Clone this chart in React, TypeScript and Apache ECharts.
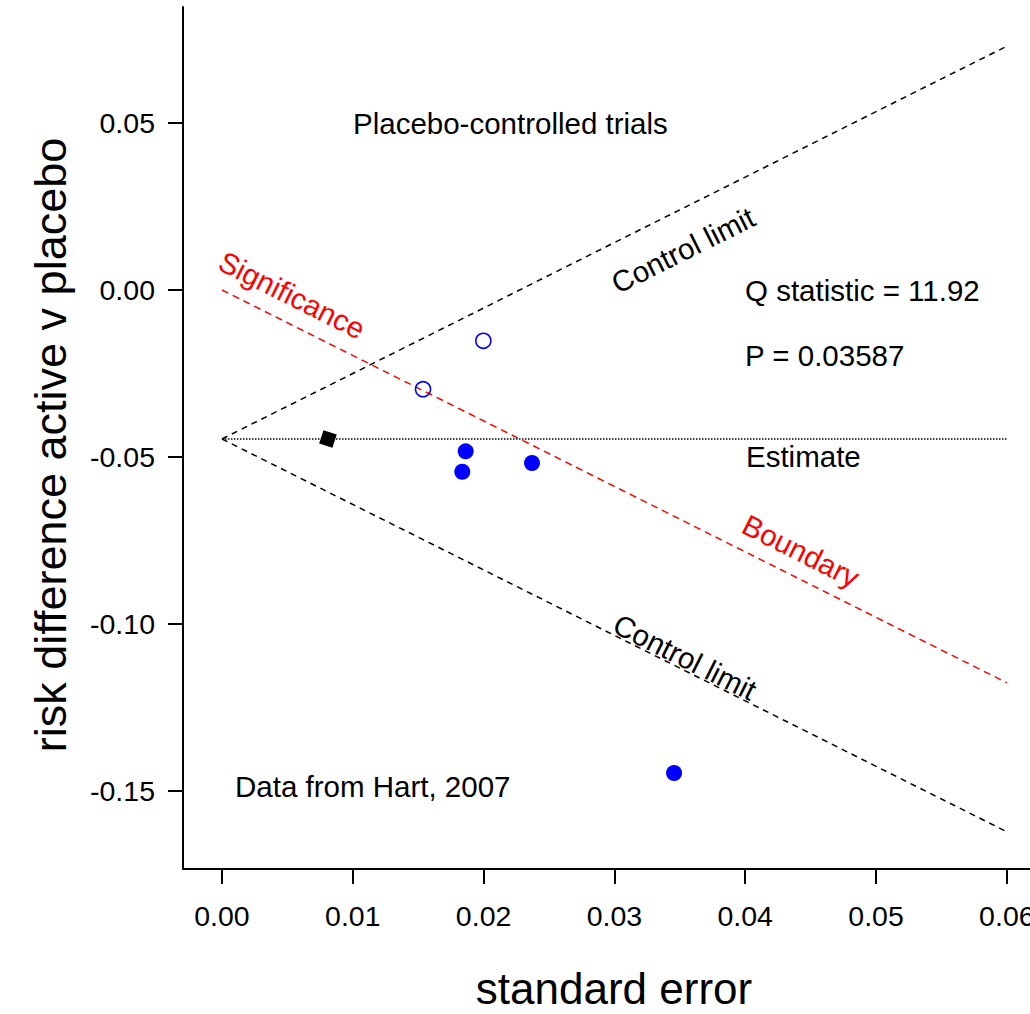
import React, { useEffect, useRef } from "react";
import * as echarts from "echarts";

// ---- data ----
const xTicks = [0, 0.01, 0.02, 0.03, 0.04, 0.05, 0.06];
const yTicks = [-0.15, -0.1, -0.05, 0, 0.05];

const controlUpper = [[0, -0.0446], [0.06, 0.073]];
const controlLower = [[0, -0.0446], [0.06, -0.1622]];
const significanceBoundary = [[0, 0], [0.06, -0.1176]];
const estimateLine = [[0, -0.0446], [0.06, -0.0446]];

const significantTrials = [
  [0.01863, -0.0483],
  [0.01837, -0.0544],
  [0.0237, -0.0518],
  [0.03456, -0.1446],
];
const nonSignificantTrials = [
  [0.01537, -0.0297],
  [0.01998, -0.0152],
];
const pooledEstimate = [[0.0081, -0.0446]];

const xTitle = "standard error";
const yTitle = "risk difference active v placebo";
const titleText = "Placebo-controlled trials";
const qText = "Q statistic = 11.92";
const pText = "P = 0.03587";
const estimateText = "Estimate";
const sourceText = "Data from Hart, 2007";
const controlText = "Control limit";
const significanceText = "Significance";
const boundaryText = "Boundary";

const FONT = "'Liberation Sans', Arial, sans-serif";
const ANG = Math.atan(0.5006);

export default function App() {
  const ref = useRef<HTMLDivElement>(null);
  useEffect(() => {
    if (!ref.current) return;
    const chart = echarts.init(ref.current, null, { renderer: "svg" });
    const txt = (text: string, x: number, y: number, opts: any = {}) => ({
      type: "text",
      x,
      y,
      rotation: opts.rotation || 0,
      z: 10,
      style: {
        text,
        fontSize: opts.fontSize || 29.5,
        fontFamily: FONT,
        fill: opts.fill || "#000",
        align: opts.align || "left",
        verticalAlign: "middle",
      },
    });
    chart.setOption({
      animation: false,
      backgroundColor: "#fff",
      grid: {
        left: 183,
        top: 7,
        right: 0,
        bottom: 145,
        containLabel: false,
        outerBoundsMode: "none",
      },
      xAxis: {
        type: "value",
        min: -0.00298,
        max: 0.06177,
        splitLine: { show: false },
        axisLine: { onZero: false, lineStyle: { color: "#000", width: 2 } },
        axisTick: { length: 15, lineStyle: { color: "#000", width: 2 }, customValues: xTicks },
        axisLabel: {
          customValues: xTicks,
          formatter: (v: number) => v.toFixed(2),
          fontSize: 28.5,
          fontFamily: FONT,
          color: "#000",
          margin: 32,
        },
      },
      yAxis: {
        type: "value",
        min: -0.17335,
        max: 0.08473,
        splitLine: { show: false },
        axisLine: { onZero: false, lineStyle: { color: "#000", width: 2 } },
        axisTick: { length: 15, lineStyle: { color: "#000", width: 2 }, customValues: yTicks },
        axisLabel: {
          customValues: yTicks,
          formatter: (v: number) => v.toFixed(2),
          fontSize: 28.5,
          fontFamily: FONT,
          color: "#000",
          margin: 28,
        },
      },
      series: [
        {
          type: "line",
          data: controlUpper,
          symbol: "none",
          lineStyle: { color: "#000", width: 1.5, type: [6, 5] },
        },
        {
          type: "line",
          data: controlLower,
          symbol: "none",
          lineStyle: { color: "#000", width: 1.5, type: [6, 5] },
        },
        {
          type: "line",
          data: significanceBoundary,
          symbol: "none",
          lineStyle: { color: "#ff0000", width: 1.5, type: [7, 5] },
        },
        {
          type: "line",
          data: estimateLine,
          symbol: "none",
          lineStyle: { color: "#000", width: 1.5, type: [1.5, 1.5] },
        },
        {
          type: "scatter",
          data: significantTrials,
          symbol: "circle",
          symbolSize: 16,
          itemStyle: { color: "#0000ff", opacity: 1 },
          z: 5,
        },
        {
          type: "scatter",
          data: nonSignificantTrials,
          symbol: "circle",
          symbolSize: 15,
          itemStyle: {
            color: "rgba(255,255,255,0)",
            borderColor: "#0000ff",
            borderWidth: 1.6,
            opacity: 1,
          },
          z: 5,
        },
        {
          type: "scatter",
          data: pooledEstimate,
          symbol: "rect",
          symbolSize: 14,
          symbolRotate: -18,
          itemStyle: { color: "#000", opacity: 1 },
          z: 5,
        },
      ],
      graphic: [
        txt(titleText, 353, 123),
        txt(qText, 745, 290),
        txt(pText, 745, 355),
        txt(estimateText, 746, 456),
        txt(sourceText, 235, 786),
        txt(controlText, 683, 250, { align: "center", rotation: ANG }),
        txt(controlText, 685, 657, { align: "center", rotation: -ANG }),
        txt(significanceText, 292, 295, { align: "center", rotation: -ANG, fill: "#ff0000" }),
        txt(boundaryText, 801, 551, { align: "center", rotation: -ANG, fill: "#ff0000" }),
        txt(xTitle, 614, 988, { align: "center", fontSize: 44 }),
        txt(yTitle, 50, 445, { align: "center", fontSize: 45, rotation: Math.PI / 2 }),
      ],
    });
    return () => chart.dispose();
  }, []);
  return (
    <div
      ref={ref}
      style={{ position: "absolute", left: 0, top: 0, width: 1030, height: 1014 }}
    />
  );
}
